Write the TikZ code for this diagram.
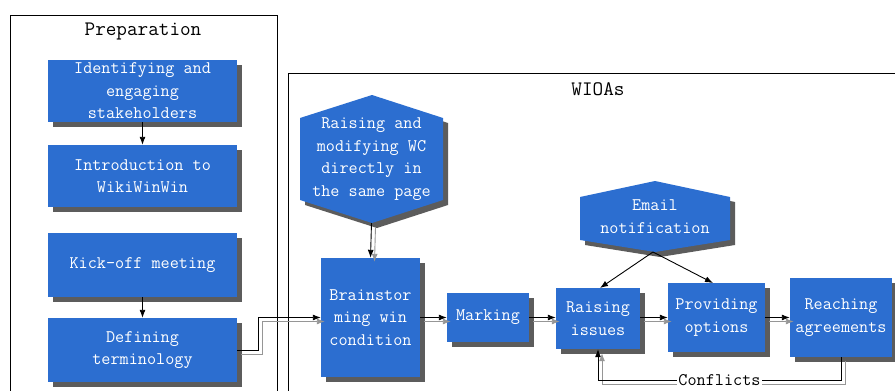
\documentclass[tikz,border=0pt]{standalone}
\usetikzlibrary{arrows.meta,shadows}
\definecolor{boxblue}{RGB}{44,110,208}
\definecolor{shadowgray}{RGB}{92,92,92}
\definecolor{lineshadow}{RGB}{150,150,150}
\begin{document}
\begin{tikzpicture}[x=1pt,y=-1pt,
  box/.style={fill=boxblue, draw=none, text=white, align=center,
    font=\ttfamily\fontsize{17.7}{22.5}\selectfont, inner sep=0pt,
    general shadow={fill=shadowgray, shadow xshift=5pt, shadow yshift=-5pt}},
  hexfill/.style={fill=boxblue},
  hexshadow/.style={fill=shadowgray},
  hextext/.style={text=white, align=center, font=\ttfamily\fontsize{17.7}{22.7}\selectfont, inner sep=0pt},
  frame/.style={draw=black, line width=0.8pt},
  title/.style={font=\ttfamily\fontsize{20.6}{22}\selectfont, inner sep=0pt},
  arr/.style={draw=black, line width=0.9pt, -{Latex[length=8pt,width=6pt]}},
  sh/.style={draw=lineshadow, line width=0.9pt, -{Latex[length=8pt,width=6pt]}, transform canvas={shift={(4pt,-4pt)}}},
  lab/.style={fill=white, inner sep=1pt, font=\ttfamily\fontsize{17.7}{19}\selectfont}]
\useasboundingbox (0,0) rectangle (895,391);
\clip (0,0) rectangle (895,391);
\fill[white] (0,0) rectangle (895,391);

% frames
\draw[frame] (10,15) rectangle (277,400);
\draw[frame] (288,73) rectangle (905,400);
\node[title] (prep) at (143,31) {Preparation};
\node[title] (wioas) at (598,89) {WIOAs};

% preparation boxes
\node[box, minimum width=189pt, minimum height=62pt] (b1) at (142.5,91) {Identifying and\\engaging\\stakeholders};
\node[box, minimum width=189pt, minimum height=62pt] (b2) at (142.5,176) {Introduction to\\WikiWinWin};
\node[box, minimum width=189pt, minimum height=64pt] (b3) at (142.5,265) {Kick-off meeting};
\node[box, minimum width=189pt, minimum height=64pt] (b4) at (142.5,350) {Defining\\terminology};

% WIOA boxes
\node[box, minimum width=99pt, minimum height=119pt] (brain) at (370.5,317.5) {Brainstor\\ming win\\condition};
\node[box, minimum width=82pt, minimum height=49pt] (mark) at (488,317.5) {Marking};
\node[box, minimum width=84pt, minimum height=61pt] (raise) at (598,318.5) {Raising\\issues};
\node[box, minimum width=97pt, minimum height=69pt] (prov) at (716.5,317.5) {Providing\\options};
\node[box, minimum width=102pt, minimum height=79pt] (reach) at (841,317.5) {Reaching\\agreements};

% hexagon 1
\fill[hexshadow] (377,100)--(448,123)--(448,205)--(377,228)--(305,205)--(305,123)--cycle;
\fill[hexfill] (372,95)--(443,118)--(443,200)--(372,223)--(300,200)--(300,118)--cycle;
\node[hextext] (hex1) at (371.5,159) {Raising and\\modifying WC\\directly in\\the same page};
\coordinate (hex1b) at (371.5,223);

% hexagon 2
\fill[hexshadow] (660,186)--(735,202)--(735,245)--(660,257)--(585,245)--(585,202)--cycle;
\fill[hexfill] (655,181)--(730,197)--(730,240)--(655,252)--(580,240)--(580,197)--cycle;
\node[hextext] (hex2) at (655,216.5) {Email\\notification};
\coordinate (hex2b) at (653,252);
\coordinate (raiseIn) at (600,288);
\coordinate (provIn) at (713,283);

% preparation arrows
\draw[arr] (b1.south) -- (b2.north);
\draw[arr] (b3.south) -- (b4.north);

% defining -> brainstorming
\coordinate (bend) at (258,350);
\draw[sh] (b4.east) -- (bend) |- (brain.west);
\draw[arr] (b4.east) -- (bend) |- (brain.west);

% hexagon -> brainstorming
\draw[sh] (hex1b) -- (brain.north);
\draw[arr] (hex1b) -- (brain.north);

% flow
\draw[sh] (brain.east) -- (mark.west);
\draw[arr] (brain.east) -- (mark.west);
\draw[sh] (mark.east) -- (raise.west |- mark.east);
\draw[arr] (mark.east) -- (raise.west |- mark.east);
\draw[sh] (raise.east |- prov.west) -- (prov.west);
\draw[arr] (raise.east |- prov.west) -- (prov.west);
\draw[sh] (prov.east) -- (reach.west);
\draw[arr] (prov.east) -- (reach.west);

% email notification
\draw[arr] (hex2b) -- (raiseIn);
\draw[arr] (hex2b) -- (provIn);

% conflicts
\draw[sh] (reach.south) -- (reach.south |- 0,380) -- (raise.south |- 0,380) -- (raise.south);
\draw[arr] (reach.south) -- (reach.south |- 0,380) -- node[lab] (conf) {Conflicts} (raise.south |- 0,380) -- (raise.south);
\end{tikzpicture}
\end{document}
